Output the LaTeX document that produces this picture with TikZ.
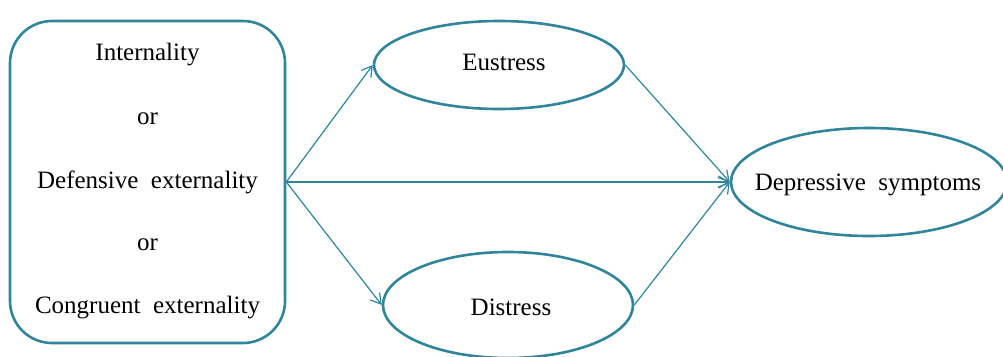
\documentclass[tikz,border=0pt]{standalone}
\usepackage{fontspec}
\setmainfont{Liberation Serif}
\usetikzlibrary{arrows.meta}
\usetikzlibrary{shapes.geometric}

\definecolor{teal5}{RGB}{49,133,155}

\begin{document}
\begin{tikzpicture} [x=1pt, y=-1pt,
  var/.style={ellipse, draw=teal5, line width=2.6pt, inner sep=0pt},
  path/.style={draw=teal5, line width=1.2pt, -{Straight Barb[length=10pt,width=12pt]}},
  lbl/.style={font=\fontsize{25}{30}\selectfont, inner sep=0pt}]
\clip (0,0) rectangle (1003,356);
\useasboundingbox (0,0) rectangle (1003,356);

% predictor box
\node[draw=teal5, line width=2.6pt, rounded corners=42pt, minimum width=275pt,
  minimum height=322pt, inner sep=0pt] (cause) at (147.5,182) {};
\foreach \y/\t/\n in {55/Internality/l1, 119/or/l2, 182/Defensive\ \ externality/l3,
                      245/or/l4, 308/Congruent\ \ externality/l5} {
 \node[lbl] (\n) at (147.5,\y) {\t};
}

% mediators and outcome
\node[var, minimum width=250pt, minimum height=88pt] (eu) at (499,65) {};
\node[lbl] (eutxt) at (504,62) {Eustress};
\node[var, minimum width=250pt, minimum height=106pt] (dis) at (508,305) {};
\node[lbl] (distxt) at (511,307) {Distress};
\node[var, minimum width=276pt, minimum height=108pt] (dep) at (869,182) {};
\node[lbl] (deptxt) at (868,185) {Depressive\ \ symptoms};

% paths
\draw[path] (cause.east) -- (eu.west);
\draw[path] (cause.east) -- (dep.west);
\draw[path] (cause.east) -- (dis.west);
\draw[path] (eu.east) -- (dep.west);
\draw[path] (dis.east) -- (dep.west);
\end{tikzpicture}
\end{document}
